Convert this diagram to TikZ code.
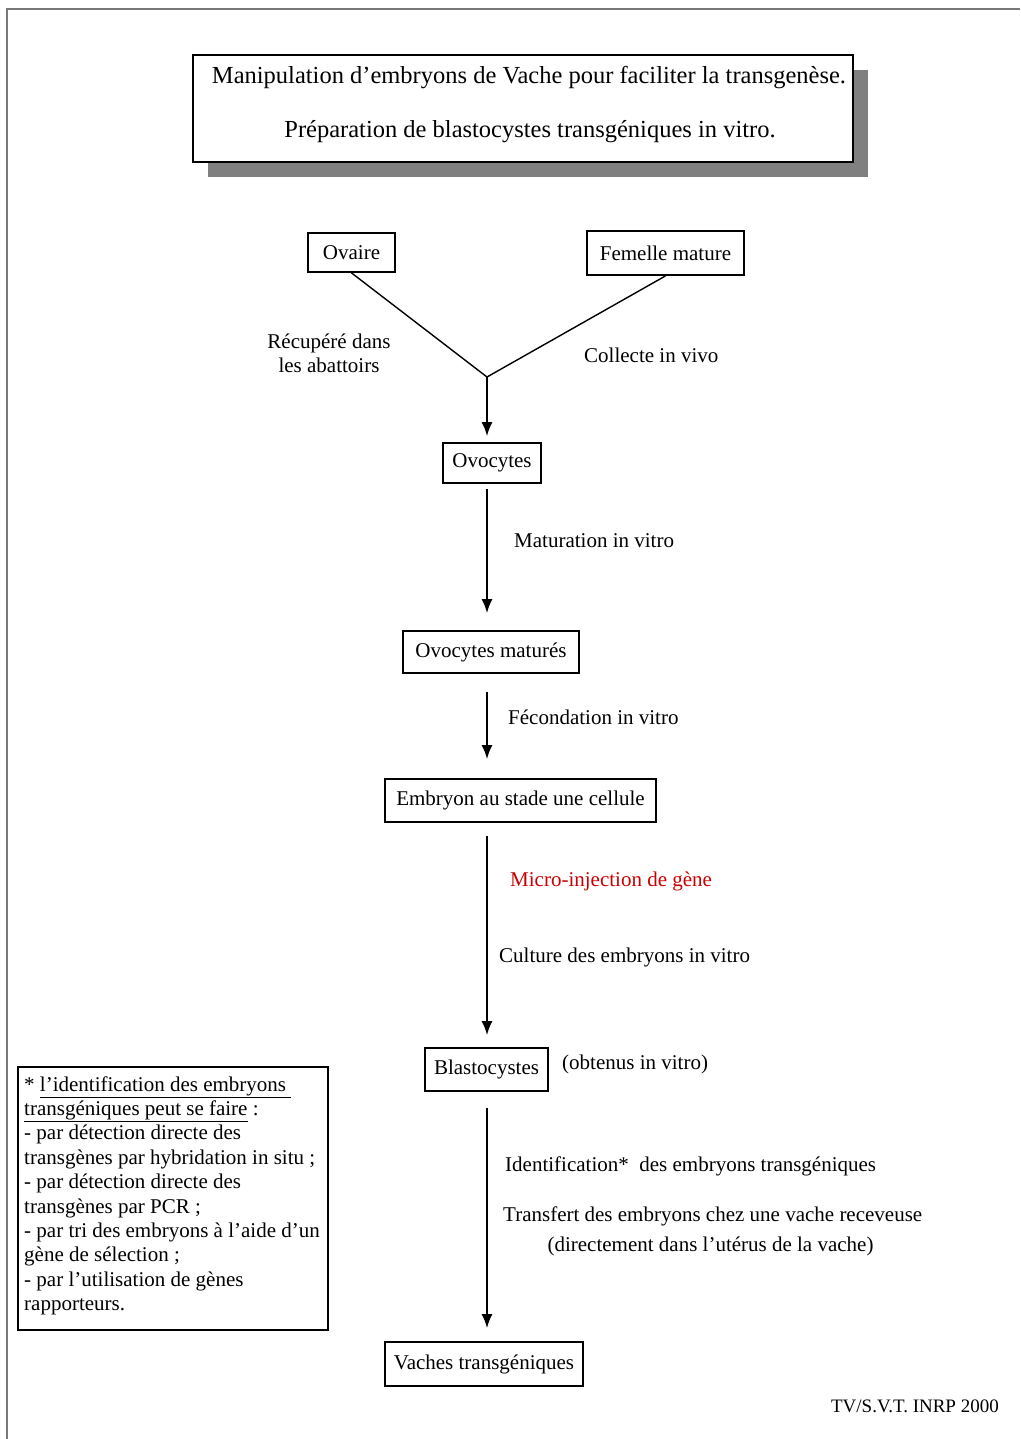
\documentclass[tikz,border=0pt]{standalone}
\usepackage{fontspec}
\setmainfont{Liberation Serif}
\usetikzlibrary{arrows.meta}
\definecolor{redtxt}{RGB}{204,0,0}
\definecolor{shadowgray}{RGB}{128,128,128}
\definecolor{framegray}{RGB}{120,120,120}
\tikzset{
  stepbox/.style={draw, line width=1.8pt, inner sep=0pt, font=\fontsize{21}{24}\selectfont},
  lbl/.style={inner sep=0pt, font=\fontsize{21}{24}\selectfont},
  arr/.style={line width=1.8pt, -{Latex[length=14pt,width=11pt]}},
  conn/.style={line width=1.4pt},
}
\begin{document}
\begin{tikzpicture}[x=1pt,y=-1pt]
\useasboundingbox (0,0) rectangle (1020,1439);
\fill[white] (0,0) rectangle (1020,1439);
% page frame
\draw[framegray, line width=2pt] (7,1439) -- (7,9) -- (1020,9);

% title
\node[fill=shadowgray, minimum width=660pt, minimum height=107pt, inner sep=0pt] (shadow) at (538,123.5) {};
\node[draw, fill=white, line width=1.8pt, minimum width=660pt, minimum height=107pt, inner sep=0pt] (title) at (523,108.5) {};
\node[inner sep=0pt, font=\fontsize{24.5}{28}\selectfont] (t1) at (529,78) {Manipulation d'embryons de Vache pour faciliter la transgenèse.};
\node[inner sep=0pt, font=\fontsize{24.5}{28}\selectfont] (t2) at (530,132) {Préparation de blastocystes transgéniques in vitro.};

% boxes
\node[stepbox, minimum width=87pt, minimum height=39pt] (ovaire) at (351.5,252.5) {Ovaire};
\node[stepbox, minimum width=157pt, minimum height=44pt] (femelle) at (665.5,253) {Femelle mature};
\node[stepbox, minimum width=98pt, minimum height=40pt] (ovo) at (492,463) {Ovocytes};
\node[stepbox, minimum width=176pt, minimum height=42pt] (matures) at (491,652) {Ovocytes maturés};
\node[stepbox, minimum width=271pt, minimum height=43pt] (emb) at (520.5,800.5) {Embryon au stade une cellule};
\node[stepbox, minimum width=123pt, minimum height=43pt] (blast) at (486.5,1069.5) {Blastocystes};
\node[stepbox, minimum width=198pt, minimum height=44pt] (vaches) at (484,1364) {Vaches transgéniques};

% connectors
\coordinate (j) at (487,377);
\coordinate (ax) at (487,0);
\draw[conn] (ovaire.south) -- (j);
\draw[conn] (femelle.south) -- (j);
\draw[arr, shorten >=6pt] (j) -- (ax |- ovo.north);
\draw[arr, shorten <=5pt, shorten >=17pt] (ax |- ovo.south) -- (ax |- matures.north);
\draw[arr, shorten <=18pt, shorten >=19pt] (ax |- matures.south) -- (ax |- emb.north);
\draw[arr, shorten <=13pt, shorten >=12pt] (ax |- emb.south) -- (ax |- blast.north);
\draw[arr, shorten <=16pt, shorten >=13pt] (ax |- blast.south) -- (ax |- vaches.north);

% labels
\node[lbl, align=center] (rec) at (329,353) {Récupéré dans\\les abattoirs};
\node[lbl, anchor=west] (col) at (584,355) {Collecte in vivo};
\node[lbl, anchor=west] (mat) at (514,541) {Maturation in vitro};
\node[lbl, anchor=west] (fec) at (508,717) {Fécondation in vitro};
\node[lbl, anchor=west, text=redtxt] (micro) at (510,881) {Micro-injection de gène};
\node[lbl, anchor=west] (cult) at (499,957) {Culture des embryons in vitro};
\node[lbl, anchor=west] (obt) at (562,1064) {(obtenus in vitro)};
\node[lbl, anchor=west] (ident) at (505,1166) {Identification*\ \ des embryons transgéniques};
\node[lbl, anchor=west] (transf) at (503,1216) {Transfert des embryons chez une vache receveuse};
\node[lbl] (direct) at (710.5,1246) {(directement dans l'utérus de la vache)};
\node[inner sep=0pt, font=\fontsize{19}{22}\selectfont, anchor=east] (tv) at (999,1406) {TV/S.V.T. INRP 2000};

% note box
\node[draw, line width=1.8pt, minimum width=310pt, minimum height=263pt, inner sep=0pt] (note) at (173,1198.5) {};
\node[lbl, align=left, anchor=north west, font=\fontsize{21}{24.4}\selectfont] (notetext) at (24,1076) {%
* \underline{l'identification des embryons\ }\\
\underline{transgéniques peut se faire} :\\
- par détection directe des\\
transgènes par hybridation in situ ;\\
- par détection directe des\\
transgènes par PCR ;\\
- par tri des embryons à l'aide d'un\\
gène de sélection ;\\
- par l'utilisation de gènes\\
rapporteurs.};
\end{tikzpicture}
\end{document}
